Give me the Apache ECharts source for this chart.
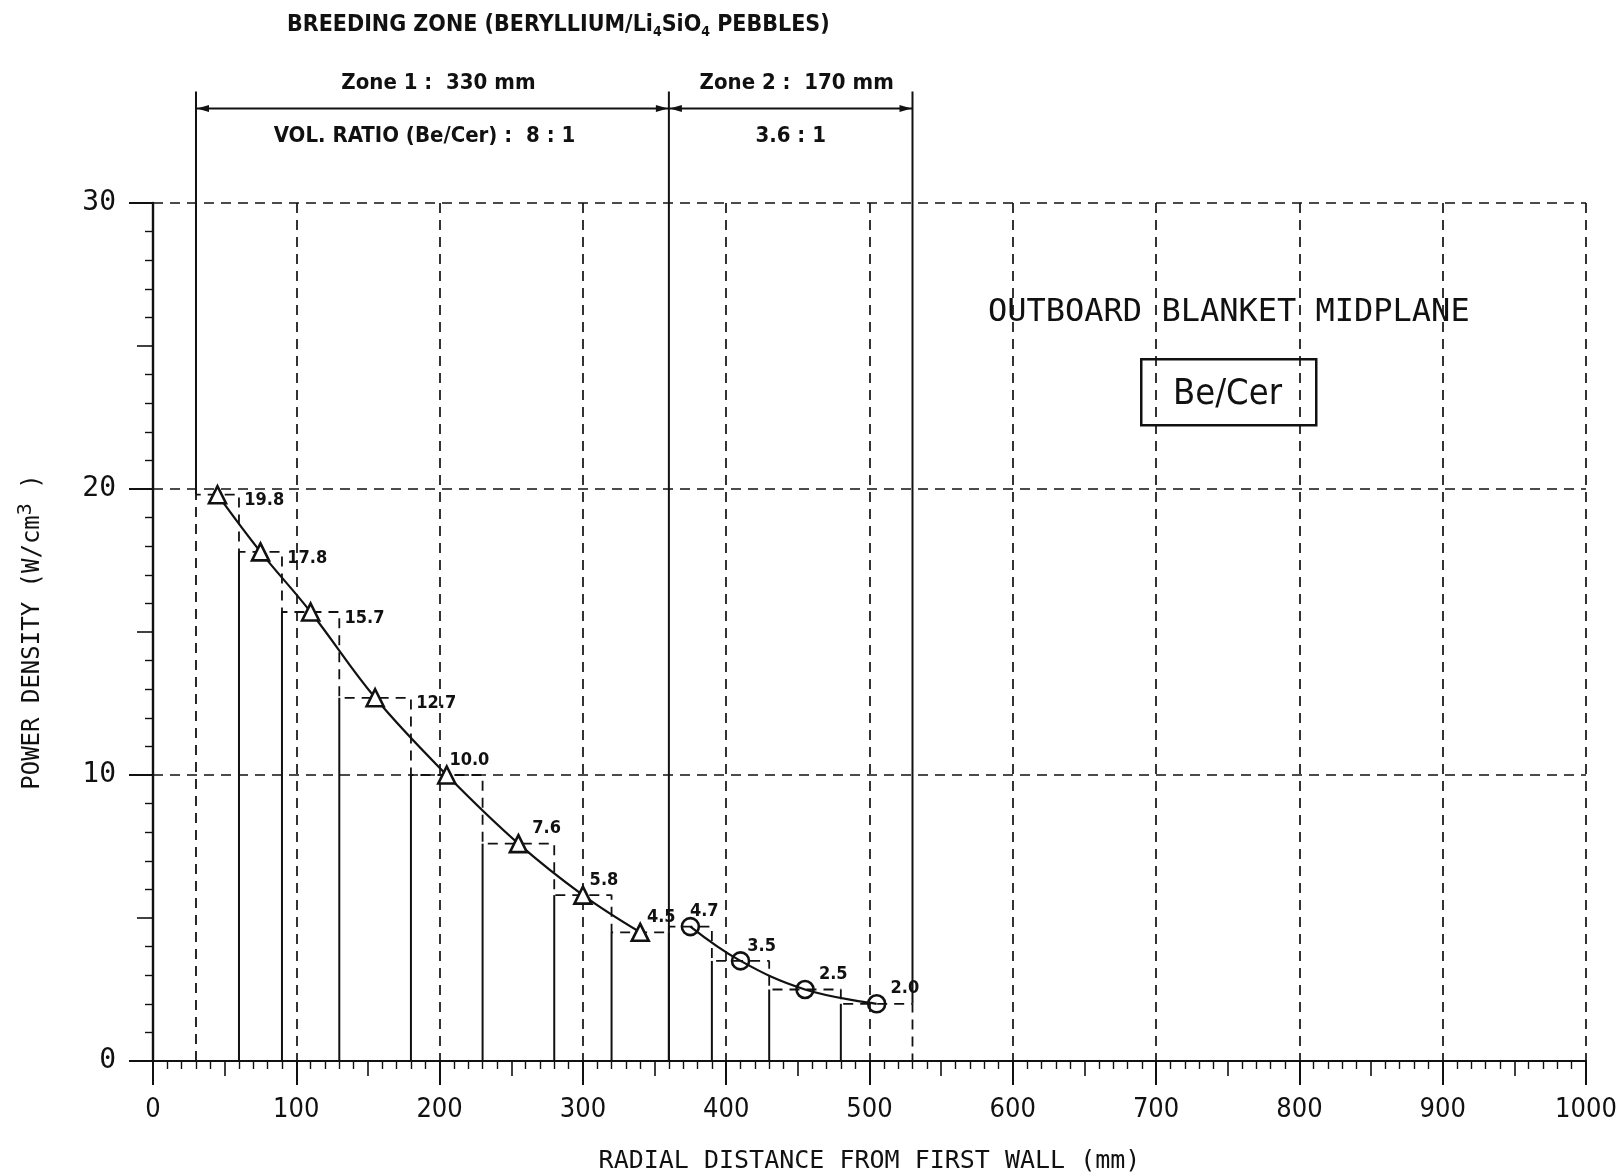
<!DOCTYPE html>
<html>
<head>
<meta charset="utf-8">
<title>Outboard blanket midplane - power density</title>
<script src="https://cdn.jsdelivr.net/npm/echarts@6/dist/echarts.min.js"></script>
<style>
  html, body { margin: 0; padding: 0; background: #fff; }
  #chart { width: 1623px; height: 1176px; }
</style>
</head>
<body>
<div id="chart"></div>
<script>
// radial mesh of the breeding zone (mm from first wall) and power density per cell (W/cm3)
const binEdges = [30, 60, 90, 130, 180, 230, 280, 320, 360, 390, 430, 480, 530]
const binValues = [19.8, 17.8, 15.7, 12.7, 10.0, 7.6, 5.8, 4.5, 4.7, 3.5, 2.5, 2.0]

// points of the fitted curves (cell centres)
const zone1X = [45, 75, 110, 155, 205, 255, 300, 340]
const zone1Y = [19.8, 17.8, 15.7, 12.7, 10.0, 7.6, 5.8, 4.5]
const zone2X = [375, 410, 455, 505]
const zone2Y = [4.7, 3.5, 2.5, 2.0]

// zone boundaries and their captions
const zoneEdges = [30, 360, 530]
const zoneNames = ['Zone 1 :  330 mm', 'Zone 2 :  170 mm']
const zoneRatios = ['VOL. RATIO (Be/Cer) :  8 : 1', '3.6 : 1']

const INK = '#111'
const NARROW = "'Liberation Sans Narrow', 'DejaVu Sans Condensed', sans-serif"
const MONO = "'DejaVu Sans Mono', 'Liberation Mono', monospace"
const DASH = [10, 7]

// dashed step outline of the cells
const stepData = [[binEdges[0], 0]]
binValues.forEach((v, i) => {
  stepData.push([binEdges[i], v], [binEdges[i + 1], v])
})
stepData.push([binEdges[binEdges.length - 1], 0])

// solid inner cell walls, up to the lower neighbour
const wallData = binEdges.slice(1, -1).map((x, i) => [x, Math.min(binValues[i], binValues[i + 1])])

// solid zone boundaries, starting where the dashed outline stops
const zoneLineData = zoneEdges.map((x, i) => {
  if (i === 0) return [x, binValues[0]]
  if (i === zoneEdges.length - 1) return [x, binValues[binValues.length - 1]]
  return [x, 0]
})

const chart = echarts.init(document.getElementById('chart'))

chart.setOption({
  backgroundColor: '#fff',
  animation: false,
  title: {
    text: 'BREEDING ZONE (BERYLLIUM/Li{s|4}SiO{s|4} PEBBLES)',
    left: 282,
    top: 6,
    textStyle: {
      fontFamily: NARROW,
      fontSize: 23,
      fontWeight: 'bold',
      color: INK,
      rich: {
        s: { fontFamily: NARROW, fontSize: 14, fontWeight: 'bold', color: INK, padding: [14, 0, 0, 0] }
      }
    }
  },
  grid: {
    left: 153,
    right: 37,
    top: 203,
    bottom: 115,
    containLabel: false,
    outerBoundsMode: 'none'
  },
  xAxis: [{
    type: 'value',
    min: 0,
    max: 1000,
    interval: 100,
    name: 'RADIAL DISTANCE FROM FIRST WALL (mm)',
    nameLocation: 'middle',
    nameGap: 88,
    nameTextStyle: { fontFamily: MONO, fontSize: 25, color: INK },
    axisLine: { lineStyle: { color: INK, width: 2 } },
    axisTick: { length: 24, lineStyle: { color: INK, width: 2 } },
    axisLabel: { margin: 35, fontFamily: NARROW, fontSize: 27, color: INK, formatter: v => String(v) },
    splitLine: { show: true, lineStyle: { color: INK, width: 1.7, type: DASH } }
  }, {
    type: 'value',
    position: 'bottom',
    min: 0,
    max: 1000,
    interval: 50,
    axisLine: { show: false },
    axisTick: { length: 15, lineStyle: { color: INK, width: 1.6 } },
    minorTick: { show: true, splitNumber: 5, length: 8, lineStyle: { color: INK, width: 1.4 } },
    axisLabel: { show: false },
    splitLine: { show: false }
  }],
  yAxis: [{
    type: 'value',
    min: 0,
    max: 30,
    interval: 10,
    name: 'POWER DENSITY (W/cm{p|3} )',
    nameLocation: 'middle',
    nameGap: 103,
    nameRotate: 90,
    nameTextStyle: {
      fontFamily: MONO,
      fontSize: 24,
      color: INK,
      rich: {
        p: { fontFamily: MONO, fontSize: 20, color: INK, padding: [0, 0, 14, 0] }
      }
    },
    axisLine: { lineStyle: { color: INK, width: 2.4 } },
    axisTick: { length: 24, lineStyle: { color: INK, width: 2 } },
    axisLabel: { margin: 37, fontFamily: MONO, fontSize: 28, color: INK },
    splitLine: { show: true, lineStyle: { color: INK, width: 1.7, type: DASH } }
  }, {
    type: 'value',
    position: 'left',
    min: 0,
    max: 30,
    interval: 5,
    axisLine: { show: false },
    axisTick: { length: 16, lineStyle: { color: INK, width: 1.6 } },
    minorTick: { show: true, splitNumber: 5, length: 8, lineStyle: { color: INK, width: 1.4 } },
    axisLabel: { show: false },
    splitLine: { show: false }
  }],
  graphic: [{
    type: 'text',
    left: 988,
    top: 297,
    style: {
      text: 'OUTBOARD BLANKET MIDPLANE',
      fontFamily: MONO,
      fontSize: 32,
      fill: INK
    }
  }, {
    type: 'rect',
    left: 1140,
    top: 358,
    shape: { width: 175, height: 66 },
    style: { fill: '#fff', stroke: INK, lineWidth: 2.5 }
  }, {
    type: 'text',
    left: 1173,
    top: 377,
    style: {
      text: 'Be/Cer',
      fontFamily: NARROW,
      fontSize: 36,
      fill: INK
    }
  }],
  series: [{
    name: 'cells',
    type: 'line',
    data: stepData,
    symbol: 'none',
    silent: true,
    lineStyle: { color: INK, width: 1.8, type: DASH },
    z: 2
  }, {
    name: 'walls',
    type: 'custom',
    data: wallData,
    silent: true,
    z: 3,
    renderItem: (params, api) => {
      const a = api.coord([api.value(0), 0])
      const b = api.coord([api.value(0), api.value(1)])
      return {
        type: 'line',
        shape: { x1: a[0], y1: a[1], x2: b[0], y2: b[1] },
        style: { stroke: INK, lineWidth: 2 }
      }
    }
  }, {
    name: 'zone boundaries',
    type: 'custom',
    data: zoneLineData,
    silent: true,
    z: 3,
    renderItem: (params, api) => {
      const a = api.coord([api.value(0), api.value(1)])
      const b = api.coord([api.value(0), 33.9])
      return {
        type: 'line',
        shape: { x1: a[0], y1: a[1], x2: b[0], y2: b[1] },
        style: { stroke: INK, lineWidth: 2 }
      }
    }
  }, {
    name: 'zone widths',
    type: 'custom',
    data: zoneNames.map((n, i) => [zoneEdges[i], 33.3]),
    silent: true,
    z: 3,
    renderItem: (params, api) => {
      const i = params.dataIndex
      const l = api.coord([zoneEdges[i], 33.3])
      const r = api.coord([zoneEdges[i + 1], 33.3])
      const y = l[1]
      const mid = (l[0] + r[0]) / 2
      return {
        type: 'group',
        children: [{
          type: 'line',
          shape: { x1: l[0], y1: y, x2: r[0], y2: y },
          style: { stroke: INK, lineWidth: 2 }
        }, {
          type: 'polygon',
          shape: { points: [[l[0] + 1, y], [l[0] + 13, y - 3.5], [l[0] + 13, y + 3.5]] },
          style: { fill: INK }
        }, {
          type: 'polygon',
          shape: { points: [[r[0] - 1, y], [r[0] - 13, y - 3.5], [r[0] - 13, y + 3.5]] },
          style: { fill: INK }
        }, {
          type: 'text',
          style: {
            x: mid + 6, y: y - 25, text: zoneNames[i], align: 'center', verticalAlign: 'middle',
            fontFamily: NARROW, fontSize: 22, fontWeight: 'bold', fill: INK
          }
        }, {
          type: 'text',
          style: {
            x: mid - (i === 0 ? 8 : 0), y: y + 28, text: zoneRatios[i], align: 'center', verticalAlign: 'middle',
            fontFamily: NARROW, fontSize: 22, fontWeight: 'bold', fill: INK
          }
        }]
      }
    }
  }, {
    name: 'zone 1',
    type: 'line',
    smooth: 0.4,
    data: zone1X.map((x, i) => [x, zone1Y[i]]),
    symbol: 'triangle',
    symbolSize: 17,
    lineStyle: { color: INK, width: 2.2 },
    itemStyle: { color: '#fff', borderColor: INK, borderWidth: 2.6 },
    z: 5
  }, {
    name: 'zone 2',
    type: 'line',
    smooth: 0.4,
    data: zone2X.map((x, i) => [x, zone2Y[i]]),
    symbol: 'circle',
    symbolSize: 17,
    lineStyle: { color: INK, width: 2.2 },
    itemStyle: { color: 'rgba(255,255,255,0)', borderColor: INK, borderWidth: 2.6 },
    z: 5
  }, {
    name: 'values',
    type: 'scatter',
    symbol: 'circle',
    symbolSize: 0.5,
    silent: true,
    itemStyle: { color: '#fff', opacity: 1 },
    data: binValues.map((v, i) => ({
      value: [binEdges[i + 1], v],
      label: i < 4 ? { position: 'right', offset: [0, 6] } : { position: 'left', offset: [12, -15] }
    })),
    label: {
      show: true,
      formatter: p => p.value[1].toFixed(1),
      fontFamily: NARROW,
      fontWeight: 'bold',
      fontSize: 18,
      color: INK,
      opacity: 1
    },
    z: 6
  }]
})
</script>
</body>
</html>
